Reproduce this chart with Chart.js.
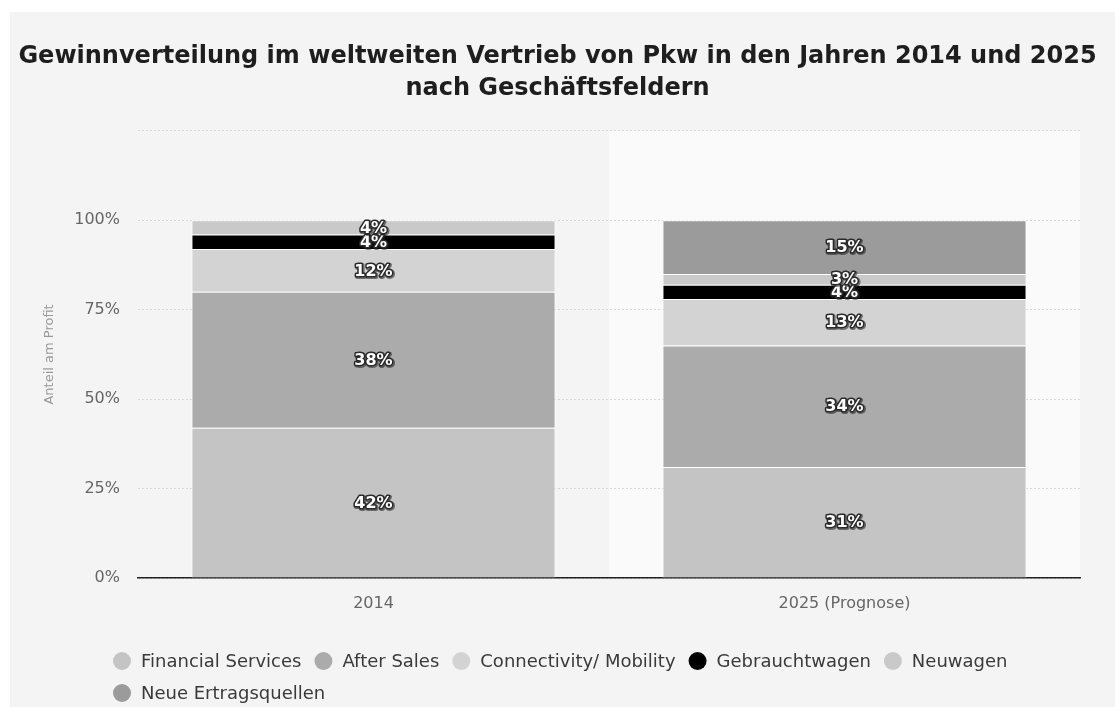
<!DOCTYPE html>
<html>
<head>
<meta charset="utf-8">
<script src="https://cdn.jsdelivr.net/npm/chart.js@4.4.1/dist/chart.umd.min.js"></script>
<style>
  html, body { margin: 0; padding: 0; background: #ffffff; width: 1115px; height: 707px; overflow: hidden; }
  #wrap { position: absolute; left: 10px; top: 12px; width: 1105px; height: 695px; background: #f4f4f4; }
  #c { position: absolute; left: 0; top: 0; }
</style>
</head>
<body>
<div id="wrap"><canvas id="c" width="1095" height="695"></canvas></div>
<script>
const categories = ['2014', '2025 (Prognose)'];
const seriesNames = ['Financial Services', 'After Sales', 'Connectivity/ Mobility', 'Gebrauchtwagen', 'Neuwagen', 'Neue Ertragsquellen'];
const financialServices = [42, 31];
const afterSales = [38, 34];
const connectivityMobility = [12, 13];
const gebrauchtwagen = [4, 4];
const neuwagen = [4, 3];
const neueErtragsquellen = [0, 15];
const seriesColors = ['#c4c4c4', '#ababab', '#d3d3d3', '#000000', '#c9c9c9', '#9b9b9b'];
const yTicks = [0, 25, 50, 75, 100, 125];
const highlightedCategory = 1;

const seriesValues = [financialServices, afterSales, connectivityMobility, gebrauchtwagen, neuwagen, neueErtragsquellen];
const FONT = '"DejaVu Sans", Verdana, sans-serif';

const bandPlugin = {
  id: 'band',
  beforeDraw(chart) {
    const {ctx, chartArea, scales} = chart;
    const x = scales.x;
    const w = (x.right - x.left) / categories.length;
    const cx = x.getPixelForValue(highlightedCategory);
    ctx.save();
    ctx.fillStyle = '#fafafa';
    ctx.fillRect(cx - w / 2, chartArea.top, w, chartArea.bottom - chartArea.top);
    ctx.restore();
  }
};

const labelPlugin = {
  id: 'segLabels',
  afterDatasetsDraw(chart) {
    const {ctx} = chart;
    ctx.save();
    ctx.font = 'bold 16px ' + FONT;
    ctx.textAlign = 'center';
    ctx.textBaseline = 'middle';
    ctx.lineJoin = 'round';
    chart.data.datasets.forEach((ds, di) => {
      const meta = chart.getDatasetMeta(di);
      meta.data.forEach((el, i) => {
        const v = ds.data[i];
        if (!v) return;
        const y = (el.y + el.base) / 2;
        const t = v + '%';
        ctx.lineWidth = 4;
        ctx.strokeStyle = 'rgba(30,30,30,0.55)';
        ctx.strokeText(t, el.x + 1, y + 2);
        ctx.lineWidth = 3;
        ctx.strokeStyle = '#2a2a2a';
        ctx.strokeText(t, el.x, y + 1);
        ctx.fillStyle = '#ffffff';
        ctx.fillText(t, el.x, y + 1);
      });
    });
    ctx.restore();
  }
};

const legendPlugin = {
  id: 'customLegend',
  afterDraw(chart) {
    const {ctx} = chart;
    const startX = 103, rowY = [649, 681], maxX = chart.width - 5;
    const d = 18, gapText = 10, gapItem = 13;
    ctx.save();
    ctx.font = '18px ' + FONT;
    ctx.textBaseline = 'middle';
    ctx.textAlign = 'left';
    let x = startX, row = 0;
    chart.data.datasets.forEach((ds) => {
      const tw = ctx.measureText(ds.label).width;
      const w = d + gapText + tw;
      if (x + w > maxX && x > startX) { row++; x = startX; }
      const y = rowY[row] !== undefined ? rowY[row] : rowY[0] + row * 32;
      ctx.beginPath();
      ctx.arc(x + d / 2, y, d / 2, 0, Math.PI * 2);
      ctx.fillStyle = ds.backgroundColor;
      ctx.fill();
      ctx.fillStyle = '#3a3a3a';
      ctx.fillText(ds.label, x + d + gapText, y + 1);
      x += w + gapItem;
    });
    ctx.restore();
  }
};

const datasets = seriesNames.map((name, i) => ({
  label: name,
  data: seriesValues[i],
  backgroundColor: seriesColors[i],
  borderColor: '#ffffff',
  borderWidth: 1,
  barPercentage: 0.773,
  categoryPercentage: 1.0
}));

new Chart(document.getElementById('c'), {
  type: 'bar',
  data: { labels: categories, datasets },
  plugins: [bandPlugin, labelPlugin, legendPlugin],
  options: {
    responsive: false,
    animation: false,
    layout: { padding: { left: 0, right: 0, top: 0, bottom: 94 } },
    plugins: {
      legend: { display: false },
      tooltip: { enabled: false },
      title: {
        display: true,
        text: ['Gewinnverteilung im weltweiten Vertrieb von Pkw in den Jahren 2014 und 2025', 'nach Geschäftsfeldern'],
        color: '#1e1e1e',
        font: { family: FONT, size: 24, weight: 'bold', lineHeight: 1.33 },
        padding: { top: 29, bottom: 26 }
      }
    },
    scales: {
      x: {
        stacked: true,
        grid: { display: false, drawTicks: false },
        border: { display: true, color: '#222222', width: 1.5 },
        ticks: { color: '#666666', font: { family: FONT, size: 16 }, padding: 16 },
        afterFit(s) { s.height = 35; }
      },
      y: {
        stacked: true,
        min: 0,
        max: 125,
        afterBuildTicks(s) { s.ticks = yTicks.map(v => ({ value: v })); },
        grid: { color: '#d6d6d6', lineWidth: 1, drawTicks: false, tickLength: 0 },
        border: { display: false, dash: [2, 2] },
        ticks: {
          color: '#666666',
          font: { family: FONT, size: 16 },
          padding: 18,
          callback: v => (v === 125 ? '' : v + '%')
        },
        title: {
          display: true,
          text: 'Anteil am Profit',
          color: '#999999',
          font: { family: FONT, size: 13 },
          padding: { top: 32, bottom: 4 }
        },
        afterFit(s) { s.width = 128; }
      },
      yRight: {
        type: 'linear',
        position: 'right',
        min: 0,
        max: 1,
        display: true,
        grid: { display: false, drawTicks: false },
        border: { display: false },
        ticks: { display: false },
        afterFit(s) { s.width = 25; }
      }
    }
  }
});
</script>
</body>
</html>
